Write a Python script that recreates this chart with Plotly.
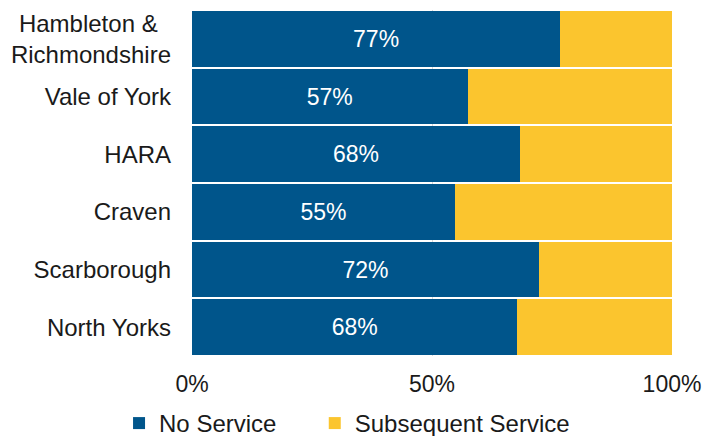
import plotly.graph_objects as go

categories = ["Hambleton &\u00a0\u00a0<br>Richmondshire", "Vale of York", "HARA", "Craven", "Scarborough", "North Yorks"]
no_service = [0.767, 0.574, 0.683, 0.548, 0.723, 0.678]
subsequent_service = [0.233, 0.426, 0.317, 0.452, 0.277, 0.322]
x_ticks = [0, 0.5, 1]
x_tick_labels = ["0%", "50%", "100%"]

BLUE = "#00558B"
YELLOW = "#FBC52E"
FONT = "Liberation Sans, Arial, sans-serif"

fig = go.Figure()
fig.add_trace(go.Bar(
    y=categories, x=no_service, orientation="h",
    name="No Service" + "\u00a0" * 5,
    marker=dict(color=BLUE, line=dict(width=0)),
    texttemplate="%{x:.0%}", textposition="inside", insidetextanchor="middle",
    textfont=dict(color="white", size=23, family=FONT),
))
fig.add_trace(go.Bar(
    y=categories, x=subsequent_service, orientation="h", name="Subsequent Service",
    marker=dict(color=YELLOW, line=dict(width=0)),
    hoverinfo="skip",
))

fig.update_layout(
    width=715, height=436,
    margin=dict(l=192, r=43, t=10, b=80, autoexpand=False),
    barmode="stack", bargap=0.04,
    plot_bgcolor="white", paper_bgcolor="white",
    font=dict(family=FONT, size=23, color="#1a1a1a"),
    showlegend=True,
    legend=dict(
        orientation="h", x=-0.152, xanchor="left", y=-0.13, yanchor="top",
        font=dict(size=24, color="#1a1a1a"), itemwidth=30,
        traceorder="normal",
    ),
    xaxis=dict(
        range=[0, 1], tickvals=x_ticks, ticktext=x_tick_labels,
        showgrid=True, gridcolor="#D9D9D9", gridwidth=1, zeroline=False,
        showline=False, ticks="", ticklabelstandoff=12,
        tickfont=dict(size=23, color="#1a1a1a"),
    ),
    yaxis=dict(
        autorange="reversed", showgrid=False, zeroline=False, showline=False,
        ticks="", ticklabelstandoff=20, tickfont=dict(size=24, color="#1a1a1a"),
    ),
)

fig.write_html("out.html")
